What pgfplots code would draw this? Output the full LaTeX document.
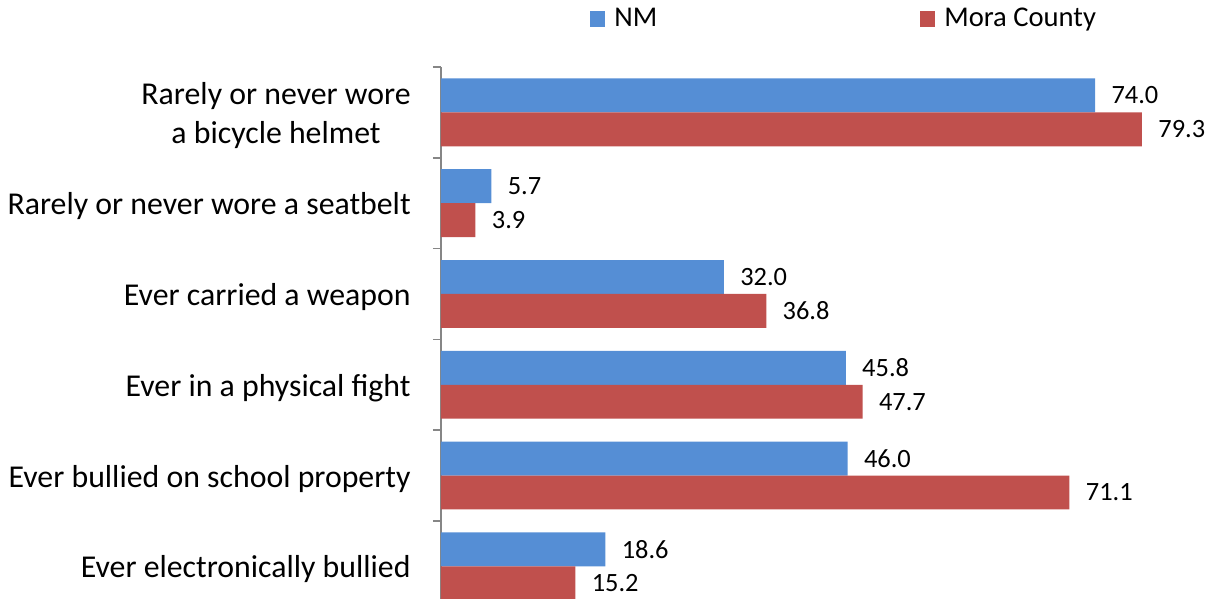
\documentclass[border=0pt]{standalone}
\usepackage{fontspec}
\setmainfont{Carlito}
\usepackage{pgfplots}
\pgfplotsset{compat=1.18}
\definecolor{nmblue}{HTML}{558ED5}
\definecolor{morared}{HTML}{C0504D}
\definecolor{axgray}{HTML}{868686}
\begin{document}
\begin{tikzpicture}
\begin{axis}[
  at={(0pt,0pt)}, anchor=south west,
  scale only axis,
  width=380.1pt, height=266pt,
  xbar, bar width=0.374,
  xmin=0, xmax=86,
  ymin=-0.5, ymax=5.36,
  y dir=reverse,
  axis x line=none,
  axis y line*=left,
  y axis line style={draw=axgray, line width=0.8pt},
  ytick={0,1,2,3,4,5},
  yticklabels={{Rarely or never wore\\a bicycle helmet},{Rarely or never wore a seatbelt},{Ever carried a weapon},{Ever in a physical fight},{Ever bullied on school property},{Ever electronically bullied}},
  major tick length=0pt,
  minor ytick={-0.5,0.5,1.5,2.5,3.5,4.5},
  minor tick length=4pt,
  tick align=outside,
  minor tick style={draw=axgray, line width=0.8pt},
  yticklabel style={align=center, inner sep=0pt, xshift=-15pt, yshift=-1.5pt, font=\fontsize{15.9}{19.5}\selectfont},
  clip=true,
  nodes near coords,
  nodes near coords style={font=\fontsize{13.2}{15}\selectfont, anchor=west, inner sep=0pt, xshift=8pt, text=black},
  every node near coord/.append style={/pgf/number format/.cd, fixed, fixed zerofill, precision=1, assume math mode=true},
  legend columns=2,
  legend style={at={(axis description cs:0.1960,1.090)}, anchor=west, draw=none, fill=none, inner sep=0pt,
    font=\fontsize{14.3}{17}\selectfont,
    /tikz/every odd column/.append style={column sep=4.5pt},
    /tikz/every even column/.append style={column sep=131.5pt},
    nodes={inner sep=0pt}},
  legend image code/.code={\fill[#1] (0pt,-4pt) rectangle (7.5pt,4pt);},
]
\addplot[fill=nmblue, draw=none, bar shift=-0.187] coordinates {(74.0,0) (5.7,1) (32.0,2) (45.8,3) (46.0,4) (18.6,5)};
\addplot[fill=morared, draw=none, bar shift=0.187] coordinates {(79.3,0) (3.9,1) (36.8,2) (47.7,3) (71.1,4) (15.2,5)};
\legend{NM, Mora County}
\end{axis}
\pgfresetboundingbox
\useasboundingbox (-220.5pt,0pt) rectangle (385pt,299.5pt);
\end{tikzpicture}
\end{document}
